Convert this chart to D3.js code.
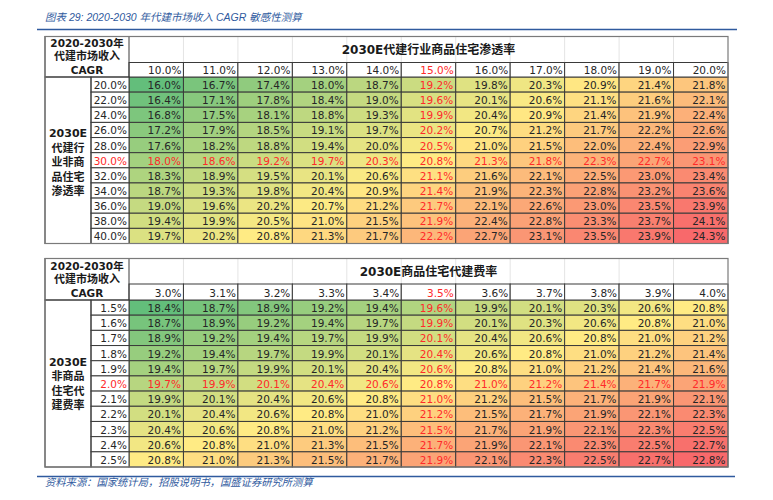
<!DOCTYPE html>
<html><head><meta charset="utf-8">
<script src="https://cdn.jsdelivr.net/npm/d3@7"></script>
<style>
html,body{margin:0;padding:0;background:#fff;}
svg{display:block;}
</style></head>
<body>
<script>
// ---------- DATA ----------
const chartTitle = "图表 29:  2020-2030 年代建市场收入 CAGR 敏感性测算";
const sourceNote = "资料来源：国家统计局，招股说明书，国盛证券研究所测算";
const cornerLabel = ["2020-2030年", "代建市场收入", "CAGR"];

const titleA = "2030E代建行业商品住宅渗透率";
const groupA = ["2030E", "代建行", "业非商", "品住宅", "渗透率"];
const colsA = ["10.0%","11.0%","12.0%","13.0%","14.0%","15.0%","16.0%","17.0%","18.0%","19.0%","20.0%"];
const rowsA = ["20.0%","22.0%","24.0%","26.0%","28.0%","30.0%","32.0%","34.0%","36.0%","38.0%","40.0%"];
const valuesA = [
  [16.0,16.7,17.4,18.0,18.7,19.2,19.8,20.3,20.9,21.4,21.8],
  [16.4,17.1,17.8,18.4,19.0,19.6,20.1,20.6,21.1,21.6,22.1],
  [16.8,17.5,18.1,18.8,19.3,19.9,20.4,20.9,21.4,21.9,22.4],
  [17.2,17.9,18.5,19.1,19.7,20.2,20.7,21.2,21.7,22.2,22.6],
  [17.6,18.2,18.8,19.4,20.0,20.5,21.0,21.5,22.0,22.4,22.9],
  [18.0,18.6,19.2,19.7,20.3,20.8,21.3,21.8,22.3,22.7,23.1],
  [18.3,18.9,19.5,20.1,20.6,21.1,21.6,22.1,22.5,23.0,23.4],
  [18.7,19.3,19.8,20.4,20.9,21.4,21.9,22.3,22.8,23.2,23.6],
  [19.0,19.6,20.2,20.7,21.2,21.7,22.1,22.6,23.0,23.5,23.9],
  [19.4,19.9,20.5,21.0,21.5,21.9,22.4,22.8,23.3,23.7,24.1],
  [19.7,20.2,20.8,21.3,21.7,22.2,22.7,23.1,23.5,23.9,24.3]
];
const highlightColA = "15.0%";
const highlightRowA = "30.0%";

const titleB = "2030E商品住宅代建费率";
const groupB = ["2030E", "非商品", "住宅代", "建费率"];
const colsB = ["3.0%","3.1%","3.2%","3.3%","3.4%","3.5%","3.6%","3.7%","3.8%","3.9%","4.0%"];
const rowsB = ["1.5%","1.6%","1.7%","1.8%","1.9%","2.0%","2.1%","2.2%","2.3%","2.4%","2.5%"];
const valuesB = [
  [18.4,18.7,18.9,19.2,19.4,19.6,19.9,20.1,20.3,20.6,20.8],
  [18.7,18.9,19.2,19.4,19.7,19.9,20.1,20.3,20.6,20.8,21.0],
  [18.9,19.2,19.4,19.7,19.9,20.1,20.4,20.6,20.8,21.0,21.2],
  [19.2,19.4,19.7,19.9,20.1,20.4,20.6,20.8,21.0,21.2,21.4],
  [19.4,19.7,19.9,20.1,20.4,20.6,20.8,21.0,21.2,21.4,21.6],
  [19.7,19.9,20.1,20.4,20.6,20.8,21.0,21.2,21.4,21.7,21.9],
  [19.9,20.1,20.4,20.6,20.8,21.0,21.2,21.5,21.7,21.9,22.1],
  [20.1,20.4,20.6,20.8,21.0,21.2,21.5,21.7,21.9,22.1,22.3],
  [20.4,20.6,20.8,21.0,21.2,21.5,21.7,21.9,22.1,22.3,22.5],
  [20.6,20.8,21.0,21.3,21.5,21.7,21.9,22.1,22.3,22.5,22.7],
  [20.8,21.0,21.3,21.5,21.7,21.9,22.1,22.3,22.5,22.7,22.8]
];
const highlightColB = "3.5%";
const highlightRowB = "2.0%";

// ---------- DRAW ----------
const W = 773, H = 500;
const svg = d3.select("body").append("svg").attr("width", W).attr("height", H);
const numFont = "'DejaVu Sans', Verdana, sans-serif";
const cjkBold = "'DejaVu Sans', 'Noto Sans CJK SC', sans-serif";
const blue = "#2f5a9e";
const red = "#ff2a2a";
const grid = "#3a3a3a";

// page title
svg.append("text").attr("x", 45).attr("y", 20.5)
  .attr("font-family", "'Liberation Sans', 'Noto Sans CJK SC', sans-serif")
  .attr("font-style", "italic").attr("font-size", 10.5).attr("fill", blue)
  .text(chartTitle);
svg.append("line").attr("x1", 37).attr("x2", 737).attr("y1", 29.5).attr("y2", 29.5)
  .attr("stroke", blue).attr("stroke-width", 1.6);

function drawTable(cfg) {
  const g = svg.append("g");
  const xL = 45, xSub = 91, xData = 129, xR = 728;
  const x = d3.scaleBand().domain(cfg.cols).range([xData, xR]);
  const y = d3.scaleBand().domain(cfg.rows).range([cfg.headBottom, cfg.bottom]);
  const all = cfg.values.flat();
  const color = d3.scaleLinear()
    .domain([d3.min(all), d3.median(all), d3.max(all)])
    .range(["#63BE7B", "#FFEB84", "#F8696B"]);

  // faint gridlines in title row
  x.domain().forEach((c, i) => {
    if (i > 0) g.append("line").attr("x1", x(c)).attr("x2", x(c))
      .attr("y1", cfg.top).attr("y2", cfg.titleBottom)
      .attr("stroke", "#e4e4e4").attr("stroke-width", 1);
  });

  // data cells
  cfg.rows.forEach((r, ri) => {
    cfg.cols.forEach((c, ci) => {
      const v = cfg.values[ri][ci];
      g.append("rect").attr("x", x(c)).attr("y", y(r))
        .attr("width", x.bandwidth()).attr("height", y.bandwidth())
        .attr("fill", color(v)).attr("stroke", grid).attr("stroke-width", 1);
      const hl = (c === cfg.hlCol || r === cfg.hlRow);
      g.append("text").attr("x", x(c) + x.bandwidth() - 2.5).attr("y", y(r) + y.bandwidth() / 2 + 0.5)
        .attr("text-anchor", "end").attr("dominant-baseline", "central")
        .attr("font-family", numFont).attr("font-size", 10.5)
        .attr("fill", hl ? red : "#262626")
        .text(v.toFixed(1) + "%");
    });
  });

  // column header cells
  cfg.cols.forEach(c => {
    g.append("rect").attr("x", x(c)).attr("y", cfg.titleBottom)
      .attr("width", x.bandwidth()).attr("height", cfg.headBottom - cfg.titleBottom)
      .attr("fill", "#fff").attr("stroke", grid).attr("stroke-width", 1);
    g.append("text").attr("x", x(c) + x.bandwidth() - 2).attr("y", (cfg.titleBottom + cfg.headBottom) / 2 + 0.5)
      .attr("text-anchor", "end").attr("dominant-baseline", "central")
      .attr("font-family", numFont).attr("font-size", 10.5)
      .attr("fill", c === cfg.hlCol ? red : "#262626").text(c);
  });

  // row sub-label cells
  cfg.rows.forEach(r => {
    g.append("rect").attr("x", xSub).attr("y", y(r))
      .attr("width", xData - xSub).attr("height", y.bandwidth())
      .attr("fill", "#fff").attr("stroke", grid).attr("stroke-width", 1);
    g.append("text").attr("x", xData - 2).attr("y", y(r) + y.bandwidth() / 2 + 0.5)
      .attr("text-anchor", "end").attr("dominant-baseline", "central")
      .attr("font-family", numFont).attr("font-size", 10.5)
      .attr("fill", r === cfg.hlRow ? red : "#262626").text(r);
  });

  // group label cell
  g.append("rect").attr("x", xL).attr("y", cfg.headBottom)
    .attr("width", xSub - xL).attr("height", cfg.bottom - cfg.headBottom)
    .attr("fill", "none").attr("stroke", grid).attr("stroke-width", 1);
  cfg.group.forEach((t, i) => {
    g.append("text").attr("x", (xL + xSub) / 2).attr("y", cfg.groupY + i * cfg.groupStep)
      .attr("text-anchor", "middle").attr("dominant-baseline", "central")
      .attr("font-family", cjkBold).attr("font-weight", "bold").attr("font-size", 11)
      .attr("fill", "#1a1a1a").text(t);
  });

  // corner cell
  g.append("rect").attr("x", xL).attr("y", cfg.top)
    .attr("width", xData - xL).attr("height", cfg.headBottom - cfg.top)
    .attr("fill", "none").attr("stroke", grid).attr("stroke-width", 1);
  cornerLabel.forEach((t, i) => {
    g.append("text").attr("x", (xL + xData) / 2).attr("y", cfg.cornerY[i])
      .attr("text-anchor", "middle").attr("dominant-baseline", "central")
      .attr("font-family", cjkBold).attr("font-weight", "bold").attr("font-size", i === 1 ? 11 : 10.5)
      .attr("fill", "#1a1a1a").text(t);
  });

  // table title
  g.append("text").attr("x", (xData + xR) / 2).attr("y", (cfg.top + cfg.titleBottom) / 2 + 0.5)
    .attr("text-anchor", "middle").attr("dominant-baseline", "central")
    .attr("font-family", cjkBold).attr("font-weight", "bold").attr("font-size", 12)
    .attr("fill", "#1a1a1a").text(cfg.title);

  // outer frame
  g.append("rect").attr("x", xL).attr("y", cfg.top)
    .attr("width", xR - xL).attr("height", cfg.bottom - cfg.top)
    .attr("fill", "none").attr("stroke", "#7a7a7a").attr("stroke-width", 1.2);
}

drawTable({
  title: titleA, cols: colsA, rows: rowsA, values: valuesA, group: groupA,
  hlCol: highlightColA, hlRow: highlightRowA,
  top: 36.5, titleBottom: 62.5, headBottom: 77, bottom: 243.5,
  cornerY: [42.5, 56.5, 70], groupY: 133.5, groupStep: 14.5
});
drawTable({
  title: titleB, cols: colsB, rows: rowsB, values: valuesB, group: groupB,
  hlCol: highlightColB, hlRow: highlightRowB,
  top: 258.5, titleBottom: 284, headBottom: 300, bottom: 467,
  cornerY: [265.5, 279.5, 293], groupY: 362, groupStep: 14.5
});

// footer
svg.append("line").attr("x1", 37).attr("x2", 735).attr("y1", 476.5).attr("y2", 476.5)
  .attr("stroke", blue).attr("stroke-width", 1.6);
svg.append("text").attr("x", 45).attr("y", 486)
  .attr("font-family", "'Liberation Sans', 'Noto Sans CJK SC', sans-serif")
  .attr("font-style", "italic").attr("font-size", 10.3).attr("fill", blue)
  .text(sourceNote);
</script>
</body></html>
